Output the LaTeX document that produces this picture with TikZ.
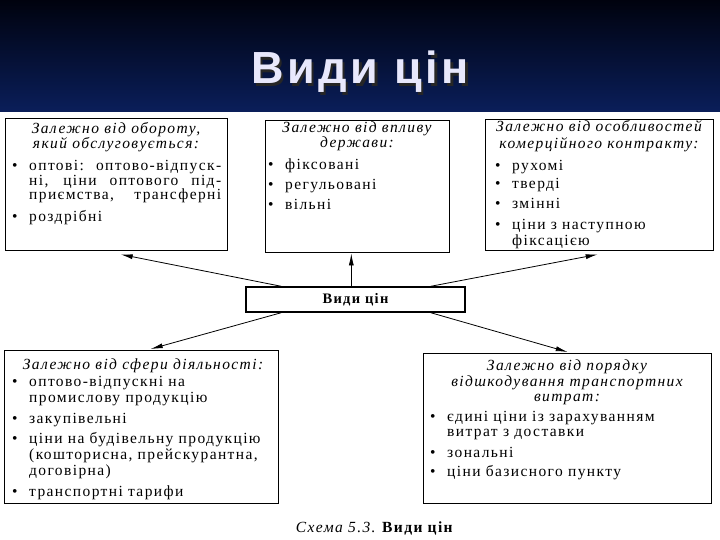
\documentclass[tikz,border=0pt]{standalone}
\usepackage{fontspec}
\setmainfont{Liberation Serif}
\newfontfamily\boxfont{Liberation Serif}[LetterSpace=9]
\newfontfamily\titlefont{Liberation Sans}[LetterSpace=8]
\usetikzlibrary{arrows.meta,calc}
\definecolor{bartop}{RGB}{0,2,14}
\definecolor{barbot}{RGB}{10,30,90}
\definecolor{titlecol}{RGB}{232,232,252}
\tikzset{
 frame/.style={draw=black, line width=1.4pt, inner sep=0pt, anchor=north west},
 head/.style={font=\boxfont\fontsize{15.5}{14.5}\selectfont\itshape, align=center, inner sep=0pt, anchor=north},
 body/.style={font=\boxfont\fontsize{15.5}{15.5}\selectfont, align=left, inner sep=0pt, anchor=north west},
 arr/.style={line width=0.8pt, -{Latex[length=12pt,width=5pt]}},
 ttl/.style={font=\titlefont\bfseries\fontsize{45}{48}\selectfont, inner sep=0pt},
}
\newcommand\bl{\makebox[17pt][l]{\textbullet}}
\newcommand\ind{\hspace*{17pt}}
\newcommand\shadowed[1]{\makebox[0pt][l]{\hspace{2.5pt}\raisebox{-2.5pt}{\color{black!85}#1}}{\color{titlecol}#1}}
\begin{document}
\begin{tikzpicture}[x=1pt,y=-1pt]
\useasboundingbox (0,0) rectangle (720,540);
\fill[white] (0,0) rectangle (720,540);
\shade[top color=bartop, bottom color=barbot] (0,0) rectangle (720,112);
\node[ttl] (title) at (360,73) {\shadowed{Види цін}};

% frames
\node[frame, minimum width=222pt, minimum height=132pt] (b1) at (5,118) {};
\node[frame, minimum width=184pt, minimum height=132pt] (b2) at (265,120) {};
\node[frame, minimum width=228pt, minimum height=131pt] (b3) at (485,119) {};
\node[frame, minimum width=274pt, minimum height=153pt] (b4) at (4,350) {};
\node[frame, minimum width=288pt, minimum height=150pt] (b5) at (423,353) {};
\node[draw=black, line width=1.4pt, minimum width=219pt, minimum height=25pt, inner sep=0pt,
      font=\boxfont\fontsize{14.5}{15}\selectfont\bfseries] (c) at (355.5,299.5) {Види цін};

% headings
\node[head, font=\boxfont\fontsize{15.5}{13.5}\selectfont\itshape] (h1) at (116,122) {Залежно від обороту,\\який обслуговується:};
\node[head] (h2) at (357,122) {Залежно від впливу\\держави:};
\node[head, font=\boxfont\fontsize{15.5}{17}\selectfont\itshape] (h3) at (599,120) {Залежно від особливостей\\комерційного контракту:};
\node[head] (h4) at (143,359) {Залежно від сфери діяльності:};
\node[head, font=\boxfont\fontsize{15.5}{15.5}\selectfont\itshape] (h5) at (567,360) {Залежно від порядку\\відшкодування транспортних\\витрат:};

% bodies
\node[body, font=\boxfont\fontsize{15.5}{13.5}\selectfont] (t1) at (12,160) {\bl\makebox[192pt][s]{оптові: оптово-відпуск-}\\
 \ind\makebox[192pt][s]{ні, ціни оптового під-}\\
 \ind\makebox[192pt][s]{приємства, трансферні}\\[6.5pt]
 \bl роздрібні};
\node[body, font=\boxfont\fontsize{15.5}{15}\selectfont] (t2) at (268,159) {\bl фіксовані\\[5pt]\bl регульовані\\[5pt]\bl вільні};
\node[body] (t3) at (495,160) {\bl рухомі\\[3pt]\bl тверді\\[4pt]\bl змінні\\[6pt]\bl ціни з наступною\\\ind фіксацією};
\node[body, font=\boxfont\fontsize{15.5}{16}\selectfont] (t4) at (12,376) {\bl оптово-відпускні на\\\ind промислову продукцію\\[5pt]
 \bl закупівельні\\[4pt]
 \bl ціни на будівельну продукцію\\\ind (кошторисна, прейскурантна,\\\ind договірна)\\[5pt]
 \bl транспортні тарифи};
\node[body] (t5) at (430,411) {\bl єдині ціни із зарахуванням\\\ind витрат з доставки\\[5pt]
 \bl зональні\\[4pt]\bl ціни базисного пункту};

% arrows
\coordinate (s1) at ($(c.north west)+(36,0)$);
\coordinate (s2) at ($(c.north west)+(106,0)$);
\coordinate (s3) at ($(c.north east)+(-35,0)$);
\coordinate (s4) at ($(c.south west)+(36,0)$);
\coordinate (s5) at ($(c.south east)+(-35,0)$);
\draw[arr] (s1) -- ($(b1.south)+(4,3)$);
\draw[arr] (s2) -- (s2 |- b2.south);
\draw[arr] (s3) -- ($(b3.south)+(-2,3)$);
\draw[arr] (s4) -- ($(b4.north)+(9,-1)$);
\draw[arr] (s5) -- ($(b5.north)+(0,-1)$);

% caption
\node[font=\boxfont\fontsize{15.5}{16}\selectfont, inner sep=0pt] (cap) at (375,528) {\textit{Схема 5.3.}\ \textbf{Види цін}};
\end{tikzpicture}
\end{document}
